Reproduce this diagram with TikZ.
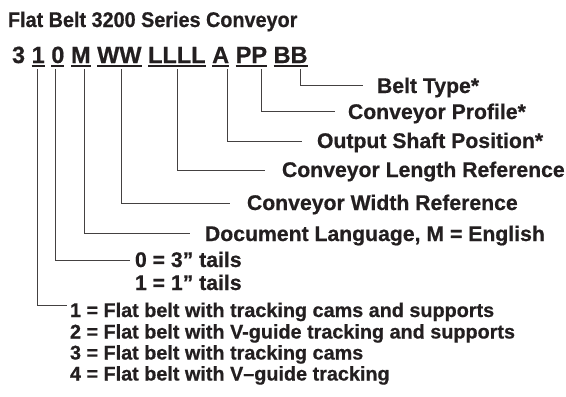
\documentclass[tikz,border=0pt]{standalone}
\usepackage{fontspec}
\usepackage{graphicx}
\setmainfont[BoldFeatures={FakeBold=0.6}]{Liberation Sans}
\definecolor{ink}{HTML}{231F20}
\begin{document}
\begin{tikzpicture}[x=1pt,y=-1pt,
  every node/.style={inner sep=0pt,outer sep=0pt,text=ink,anchor=base west},
  title/.style={font=\fontsize{19.8}{24}\selectfont\bfseries},
  code/.style={font=\fontsize{23.5}{28}\selectfont\bfseries},
  lab/.style={font=\fontsize{21.2}{24}\selectfont\bfseries},
  lst/.style={font=\fontsize{19.8}{24}\selectfont\bfseries},
  uline/.style={draw=ink,line width=1.3pt},
  lead/.style={draw=ink!85,line width=0.8pt}]
\useasboundingbox (0,0) rectangle (566,397);
\fill[white] (0,0) rectangle (566,397);
% title
\node[title] (title) at (8,27) {\scalebox{1}[1.07]{Flat Belt 3200 Series Conveyor}};
% code line
\node[code] (g0) at (12,63) {3};
\node[code] (g1) at ([xshift=6.6pt]g0.base east) {1};
\node[code] (g2) at ([xshift=6.6pt]g1.base east) {0};
\node[code] (g3) at ([xshift=6.6pt]g2.base east) {M};
\node[code] (g4) at ([xshift=6.6pt]g3.base east) {WW};
\node[code] (g5) at ([xshift=6.6pt]g4.base east) {LLLL};
\node[code] (g6) at ([xshift=6.6pt]g5.base east) {A};
\node[code] (g7) at ([xshift=6.6pt]g6.base east) {PP};
\node[code] (g8) at ([xshift=6.6pt]g7.base east) {BB};
\foreach \g in {g1,g2,g3,g4,g5,g6,g7,g8}
  \draw[uline] ([yshift=-3pt]\g.base west) -- ([yshift=-3pt]\g.base east);
% labels
\node[lab] (lb8) at (377,93) {Belt Type*};
\node[lab] (lb7) at (348,119) {Conveyor Profile*};
\node[lab] (lb6) at (317,148) {Output Shaft Position*};
\node[lab] (lb5) at (282,177) {Conveyor Length Reference};
\node[lab] (lb4) at (247,210) {Conveyor Width Reference};
\node[lab] (lb3) at (205,241) {Document Language, M = English};
\node[lab] (lb2a) at (135,267) {0 = 3” tails};
\node[lab] (lb2b) at (135,290) {1 = 1” tails};
\node[lst] (lb1a) at (70,317) {1 = Flat belt with tracking cams and supports};
\node[lst] (lb1b) at (70,338.5) {2 = Flat belt with V-guide tracking and supports};
\node[lst] (lb1c) at (70,359.5) {3 = Flat belt with tracking cams};
\node[lst] (lb1d) at (70,380.5) {4 = Flat belt with V–guide tracking};
% leader lines
\coordinate (t1) at (37.3,69);  \coordinate (e1) at (67,305);
\coordinate (t2) at (55.7,69);  \coordinate (e2) at (130,260);
\coordinate (t3) at (84.3,69);  \coordinate (e3) at (190,233);
\coordinate (t4) at (121.7,69); \coordinate (e4) at (230,203);
\coordinate (t5) at (177.7,69); \coordinate (e5) at (265,170);
\coordinate (t6) at (227.7,69); \coordinate (e6) at (302,141);
\coordinate (t7) at (261,69);   \coordinate (e7) at (335,111);
\coordinate (t8) at (300,69);   \coordinate (e8) at (363,85.5);
\foreach \i in {1,...,8}
  \draw[lead] (t\i) |- (e\i);
\end{tikzpicture}
\end{document}
